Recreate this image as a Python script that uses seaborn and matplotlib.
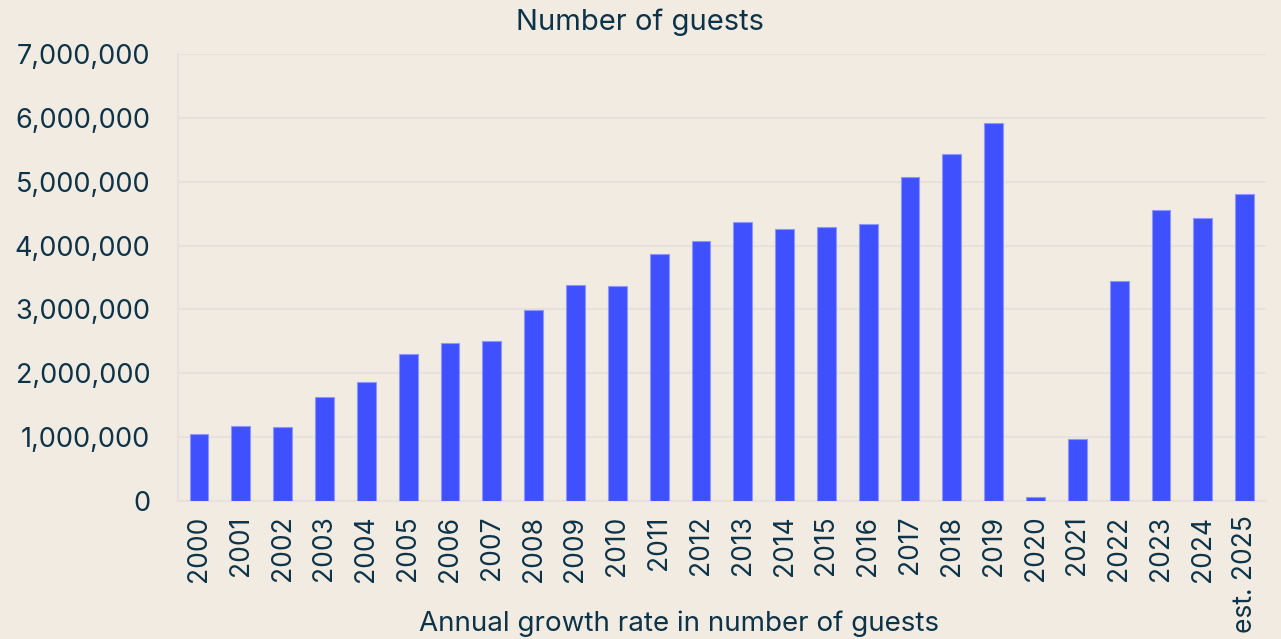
import matplotlib
matplotlib.use("Agg")
import matplotlib.pyplot as plt
import seaborn as sns
import pandas as pd
from matplotlib.ticker import FuncFormatter

years = ["2000", "2001", "2002", "2003", "2004", "2005", "2006", "2007", "2008",
         "2009", "2010", "2011", "2012", "2013", "2014", "2015", "2016", "2017",
         "2018", "2019", "2020", "2021", "2022", "2023", "2024", "est. 2025"]
guests = [1050000, 1170000, 1160000, 1630000, 1860000, 2300000, 2470000, 2510000,
          2990000, 3380000, 3370000, 3870000, 4070000, 4370000, 4260000, 4290000,
          4340000, 5070000, 5430000, 5920000, 70000, 970000, 3440000, 4560000,
          4430000, 4800000]
title = "Number of guests"
subtitle = "Annual growth rate in number of guests"

BG = "#F2EBE2"
BAR = "#3F51FF"
TXT = "#0D3349"
GRID = "#E6E1DA"

sns.set_theme(style="white")
plt.rcParams["font.family"] = ["Inter", "DejaVu Sans"]

df = pd.DataFrame({"year": years, "guests": guests})

fig = plt.figure(figsize=(12.81, 6.39), dpi=100, facecolor=BG)
ax = fig.add_axes([0.139, 0.216, 0.849, 0.6995])
ax.set_facecolor(BG)

sns.barplot(data=df, x="year", y="guests", color=BAR, width=0.45,
            edgecolor="#8C97FF", linewidth=0.8, saturation=1, ax=ax, zorder=3)

ax.set_xlim(-0.5, len(years) - 0.5)
ax.set_ylim(0, 7000000)
ax.set_yticks(range(0, 7000001, 1000000))
ax.yaxis.set_major_formatter(FuncFormatter(lambda v, p: f"{int(v):,}"))
ax.grid(axis="y", color=GRID, linewidth=1.5, zorder=0)
ax.set_axisbelow(True)
for s in ["top", "right"]:
    ax.spines[s].set_visible(False)
ax.spines["left"].set_color(GRID)
ax.spines["left"].set_linewidth(1.5)
ax.spines["bottom"].set_color(GRID)
ax.spines["bottom"].set_linewidth(1.5)
ax.tick_params(axis="y", length=0, pad=20, labelsize=19.5, labelcolor=TXT)
ax.tick_params(axis="x", length=0, pad=10.5, labelsize=19, labelcolor=TXT, rotation=90)
ax.set_xlabel("")
ax.set_ylabel("")

fig.text(0.5, 0.965, title, ha="center", va="center", fontsize=21, color=TXT)
fig.text(0.53, 0.003, subtitle, ha="center", va="bottom", fontsize=20, color=TXT)

fig.savefig("out.png", dpi=100, facecolor=BG)
